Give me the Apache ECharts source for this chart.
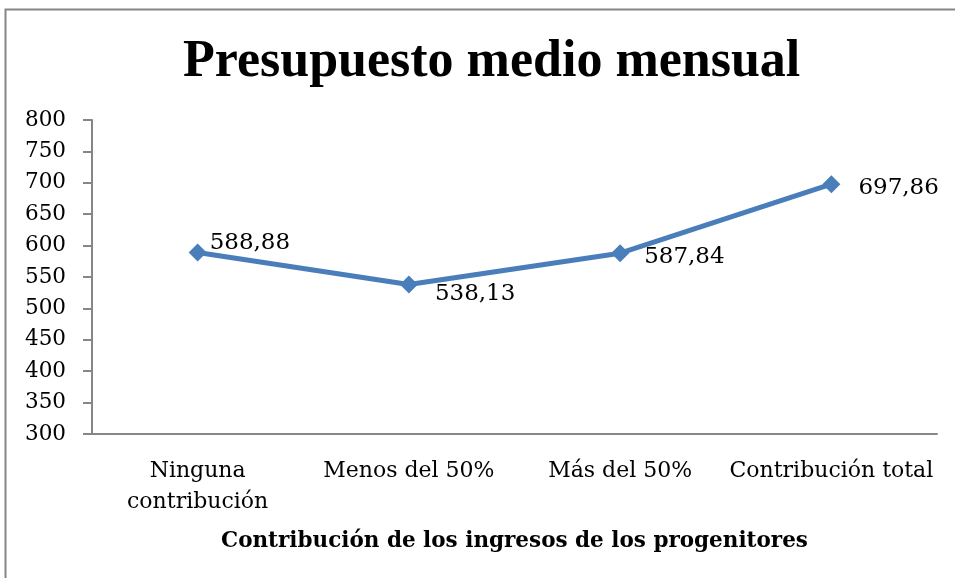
<!DOCTYPE html>
<html>
<head>
<meta charset="utf-8">
<script src="https://cdn.jsdelivr.net/npm/echarts@6/dist/echarts.min.js"></script>
<style>
body { margin: 0; background: #fff; }
#chart { width: 955px; height: 578px; }
</style>
</head>
<body>
<div id="chart"></div>
<script>
var categorias = ['Ninguna\ncontribución', 'Menos del 50%', 'Más del 50%', 'Contribución total'];
var presupuesto = [588.88, 538.13, 587.84, 697.86];
var etiquetas = ['588,88', '538,13', '587,84', '697,86'];

var fuente = 'DejaVu Serif';
var chart = echarts.init(document.getElementById('chart'));

// posicion de cada etiqueta respecto al punto
var offsets = [[-2, -10], [12, 10], [10, 4], [13, 4]];
var datos = presupuesto.map(function (v, i) {
    return {
        value: v,
        label: { offset: offsets[i], formatter: etiquetas[i] }
    };
});

chart.setOption({
    animation: false,
    title: {
        text: 'Presupuesto medio mensual',
        left: 178,
        top: 32,
        textStyle: { fontFamily: 'Liberation Serif', fontSize: 52, fontWeight: 'bold', color: '#000' }
    },
    graphic: [{
        type: 'polyline',
        shape: { points: [[5.5, 600], [5.5, 9.5], [960, 9.5]] },
        style: { stroke: '#868686', lineWidth: 2, fill: null }
    }],
    grid: { left: 92, right: 18, top: 120, bottom: 144 },
    xAxis: {
        type: 'category',
        data: categorias,
        name: 'Contribución de los ingresos de los progenitores',
        nameLocation: 'middle',
        nameGap: 96,
        nameTextStyle: { fontFamily: fuente, fontSize: 21.5, fontWeight: 'bold', color: '#000' },
        axisLine: { lineStyle: { color: '#868686', width: 2 } },
        axisTick: { show: false },
        axisLabel: { fontFamily: fuente, fontSize: 22, color: '#000', margin: 22, lineHeight: 31, interval: 0 }
    },
    yAxis: {
        type: 'value',
        min: 300,
        max: 800,
        interval: 50,
        axisLine: { show: true, lineStyle: { color: '#868686', width: 2 } },
        axisTick: { show: true, length: 9, lineStyle: { color: '#868686', width: 2 } },
        splitLine: { show: false },
        axisLabel: { fontFamily: fuente, fontSize: 21.5, color: '#000', margin: 26 }
    },
    series: [{
        type: 'line',
        data: datos,
        symbol: 'diamond',
        symbolSize: 18,
        lineStyle: { color: '#4A7EBB', width: 5 },
        itemStyle: { color: '#4A7EBB' },
        label: {
            show: true,
            position: 'right',
            fontFamily: fuente,
            fontSize: 23,
            color: '#000'
        }
    }]
});
</script>
</body>
</html>
